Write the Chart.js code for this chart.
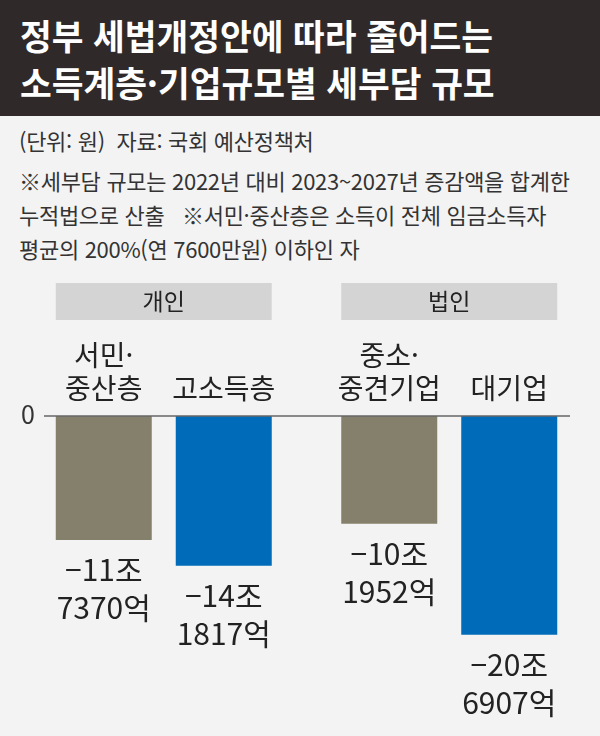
<!DOCTYPE html>
<html lang="ko">
<head>
<meta charset="utf-8">
<script src="https://cdn.jsdelivr.net/npm/chart.js@4/dist/chart.umd.min.js"></script>
<style>
  body { margin: 0; background: #f3f3f3; font-family: "Noto Sans CJK KR", "Noto Sans", sans-serif; }
  #page { position: relative; width: 600px; height: 736px; overflow: hidden; background: #f3f3f3; }
  #title { position: absolute; left: 0; top: 0; width: 600px; height: 116px; background: #2f2a29; }
  .tline { position: absolute; left: 20px; color: #fff; font-size: 35px; font-weight: 700; line-height: 40px;
           white-space: pre; transform: scaleX(0.985); transform-origin: left center; }
  .note { position: absolute; left: 19px; color: #333; font-size: 22px; line-height: 30px; white-space: pre; letter-spacing: -0.3px; }
  #chartBox { position: absolute; left: 0; top: 270px; width: 600px; height: 466px; }
</style>
</head>
<body>
<div id="page">
  <div id="title">
    <div class="tline" style="top:15px">정부 세법개정안에 따라 줄어드는</div>
    <div class="tline" style="top:62px">소득계층·기업규모별 세부담 규모</div>
  </div>
  <div class="note" style="top:125px">(단위: 원)  자료: 국회 예산정책처</div>
  <div class="note" style="top:165px">※세부담 규모는 2022년 대비 2023~2027년 증감액을 합계한</div>
  <div class="note" style="top:199px">누적법으로 산출   ※서민·중산층은 소득이 전체 임금소득자</div>
  <div class="note" style="top:233px">평균의 200%(연 7600만원) 이하인 자</div>
  <div id="chartBox"><canvas id="chart" width="600" height="466"></canvas></div>
</div>
<script>
// 그룹(개인/법인)과 각 그룹 안의 두 막대
const groups = ["개인", "법인"];
const lowLabels = [["서민·", "중산층"], ["중소·", "중견기업"]];
const highLabels = [["고소득층"], ["대기업"]];
// 단위: 억원
const lowValues = [-117370, -101952];
const highValues = [-141817, -206907];

const grayColor = "#85806b";
const blueColor = "#006bb8";

function formatValue(v) {
  const a = Math.abs(v);
  const jo = Math.floor(a / 10000);
  const eok = a % 10000;
  return ["\u2212" + jo + "조", eok + "억"];
}

const labelsPlugin = {
  id: "labelsPlugin",
  afterDatasetsDraw(chart) {
    const ctx = chart.ctx;
    const top = chart.chartArea.top;
    const y0 = chart.scales.y.getPixelForValue(0);
    const m0 = chart.getDatasetMeta(0);
    const m1 = chart.getDatasetMeta(1);
    const catLabels = [lowLabels, highLabels];

    ctx.save();
    // 0 선
    ctx.strokeStyle = "#666";
    ctx.lineWidth = 1.5;
    ctx.beginPath();
    ctx.moveTo(44, y0);
    ctx.lineTo(570, y0);
    ctx.stroke();
    ctx.fillStyle = "#333";
    ctx.font = "25px 'Noto Sans CJK KR'";
    ctx.textAlign = "center";
    ctx.textBaseline = "middle";
    ctx.fillText("0", 28, y0 - 2);

    groups.forEach((g, i) => {
      const b0 = m0.data[i], b1 = m1.data[i];
      const left = b0.x - b0.width / 2;
      const right = b1.x + b1.width / 2;
      // 그룹 머리 상자
      ctx.fillStyle = "#d4d4d4";
      ctx.fillRect(left, top - 133, right - left, 37);
      ctx.fillStyle = "#222";
      ctx.font = "23px 'Noto Sans CJK KR'";
      ctx.fillText(g, (left + right) / 2, top - 115);
    });

    [m0, m1].forEach((meta, d) => {
      meta.data.forEach((bar, i) => {
        // 막대 위 이름
        const lines = catLabels[d][i];
        ctx.fillStyle = "#222";
        ctx.font = "28px 'Noto Sans CJK KR'";
        lines.forEach((t, k) => {
          ctx.fillText(t, bar.x, y0 - 28 - (lines.length - 1 - k) * 33);
        });
        // 막대 아래 값
        const v = chart.data.datasets[d].data[i];
        const vl = formatValue(v);
        ctx.font = "30px 'Noto Sans CJK KR'";
        ctx.fillText(vl[0], bar.x, bar.y + 30);
        ctx.fillText(vl[1], bar.x, bar.y + 68);
      });
    });
    ctx.restore();
  }
};

new Chart(document.getElementById("chart"), {
  type: "bar",
  data: {
    labels: groups,
    datasets: [
      { data: lowValues, backgroundColor: grayColor, borderWidth: 0 },
      { data: highValues, backgroundColor: blueColor, borderWidth: 0 }
    ]
  },
  options: {
    responsive: false,
    animation: false,
    devicePixelRatio: 1,
    layout: { padding: { left: 21, right: 8, top: 146, bottom: 3 } },
    datasets: { bar: { categoryPercentage: 0.8406, barPercentage: 0.8 } },
    scales: {
      x: { display: false },
      y: { display: false, min: -300000, max: 0 }
    },
    plugins: { legend: { display: false }, tooltip: { enabled: false } }
  },
  plugins: [labelsPlugin]
});
</script>
</body>
</html>
